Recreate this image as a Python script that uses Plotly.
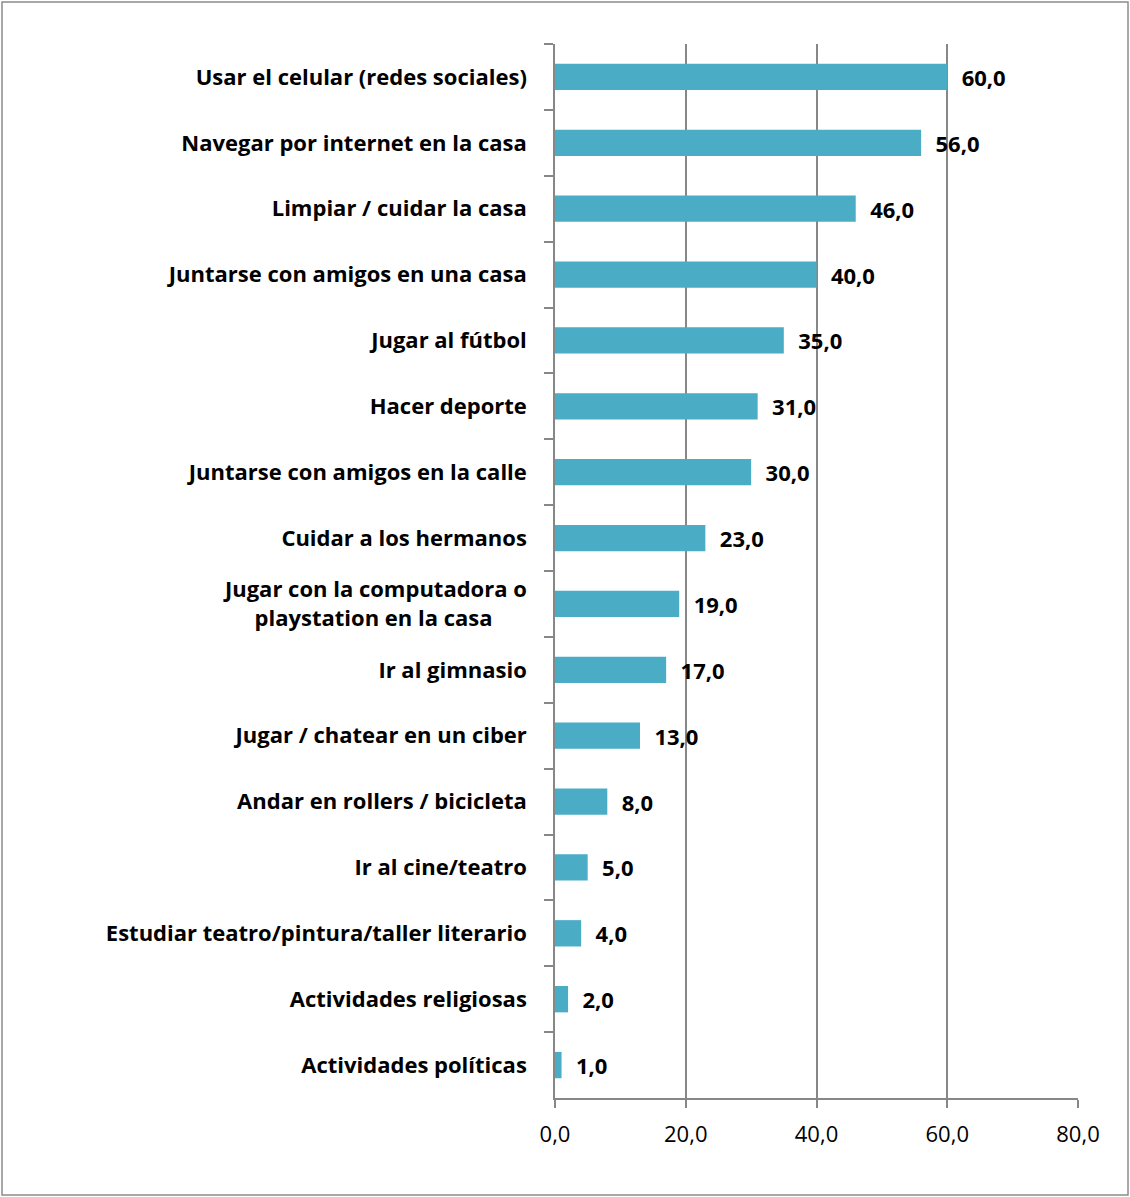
import plotly.graph_objects as go

categories = [
    "Usar el celular (redes sociales)",
    "Navegar por internet en la casa",
    "Limpiar / cuidar la casa",
    "Juntarse con amigos en una casa",
    "Jugar al fútbol",
    "Hacer deporte",
    "Juntarse con amigos en la calle",
    "Cuidar a los hermanos",
    "Jugar con la computadora o<br>playstation en la casa" + "\u00a0" * 6,
    "Ir al gimnasio",
    "Jugar / chatear en un ciber",
    "Andar en rollers / bicicleta",
    "Ir al cine/teatro",
    "Estudiar teatro/pintura/taller literario",
    "Actividades religiosas",
    "Actividades políticas",
]
values = [60, 56, 46, 40, 35, 31, 30, 23, 19, 17, 13, 8, 5, 4, 2, 1]
x_ticks = [0, 20, 40, 60, 80]

W, H = 1130, 1197
ml, mr, mt, mb = 555, 52, 44, 99
pw, ph = W - ml - mr, H - mt - mb

FONT = "Open Sans"

fig = go.Figure(go.Bar(
    x=values,
    y=categories,
    orientation="h",
    marker=dict(color="#4BACC6", line=dict(width=0)),
    text=["\u00a0\u00a0" + f"{v:.1f}".replace(".", ",") for v in values],
    textposition="outside",
    constraintext="none",
    textfont=dict(family=FONT, size=22, color="#000000", weight="bold"),
    cliponaxis=False,
    hoverinfo="skip",
))

fig.update_layout(
    width=W, height=H,
    margin=dict(l=ml, r=mr, t=mt, b=mb, pad=0),
    paper_bgcolor="white",
    plot_bgcolor="white",
    bargap=0.6,
    separators=",.",
    showlegend=False,
    font=dict(family=FONT, color="#000000"),
    xaxis=dict(
        range=[0, 80],
        tickvals=x_ticks,
        tickformat=".1f",
        showgrid=True,
        gridcolor="#878787",
        gridwidth=1.5,
        zeroline=False,
        showline=True,
        linecolor="#878787",
        linewidth=1.5,
        ticks="outside",
        ticklen=8,
        tickcolor="#878787",
        tickwidth=1.5,
        ticklabelstandoff=8,
        tickfont=dict(family=FONT, size=22, color="#000000"),
        fixedrange=True,
    ),
    yaxis=dict(
        autorange="reversed",
        showline=True,
        linecolor="#878787",
        linewidth=1.5,
        ticks="outside",
        tickson="boundaries",
        ticklen=9,
        tickcolor="#878787",
        tickwidth=1.5,
        ticklabelstandoff=22,
        showgrid=False,
        tickfont=dict(family=FONT, size=22, color="#000000", weight="bold"),
        fixedrange=True,
    ),
    shapes=[dict(
        type="rect", xref="paper", yref="paper",
        x0=(2 - ml) / pw, x1=(1128 - ml) / pw,
        y0=(H - mb - 1195) / ph, y1=(H - mb - 2) / ph,
        line=dict(color="#8C8C8C", width=1.5),
        fillcolor="rgba(0,0,0,0)",
        layer="below",
    )],
)

fig.write_html("out.html")
